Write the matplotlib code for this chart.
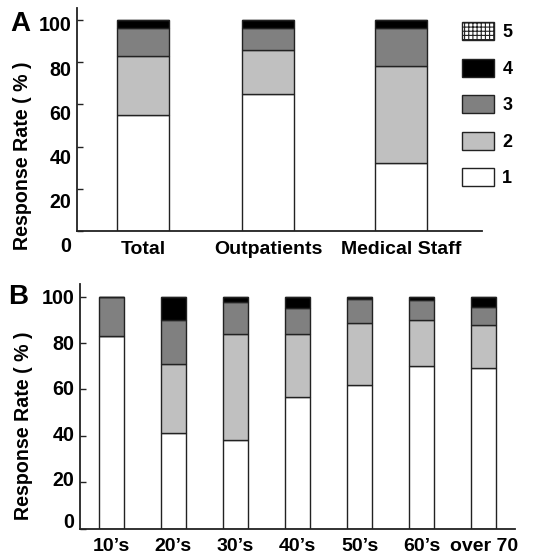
import matplotlib
matplotlib.use("Agg")
import matplotlib.pyplot as plt
from matplotlib.patches import Patch
from matplotlib.transforms import ScaledTranslation
import numpy as np

plt.rcParams['font.family'] = ['Liberation Sans', 'DejaVu Sans']
plt.rcParams['font.weight'] = 'bold'
plt.rcParams['hatch.linewidth'] = 0.8

# ---- data ----
groups_a = ["Total", "Outpatients", "Medical Staff"]
a_r1 = [55, 65, 32]
a_r2 = [28, 20.5, 46]
a_r3 = [13, 10.5, 18]
a_r4 = [4, 4, 4]
a_r5 = [0, 0, 0]

groups_b = ["10\u2019s", "20\u2019s", "30\u2019s", "40\u2019s", "50\u2019s", "60\u2019s", "over 70"]
b_r1 = [83, 41.4, 38.2, 56.8, 61.9, 70.1, 69.1]
b_r2 = [0, 29.4, 45.7, 27.3, 26.6, 19.8, 18.5]
b_r3 = [17, 19.3, 13.7, 11.2, 10.4, 8.5, 8.1]
b_r4 = [0, 9.9, 2.4, 4.7, 1.1, 1.6, 4.3]
b_r5 = [0, 0, 0, 0, 0, 0, 0]

legend_labels = ["1", "2", "3", "4", "5"]
yticks = [0, 20, 40, 60, 80, 100]

# ---- style ----
fills = ["white", "#c0c0c0", "#808080", "black", "white"]
hatches = [None, None, None, None, "++++"]
edge = "#222222"

W, H = 536, 555
fig = plt.figure(figsize=(W / 100, H / 100), dpi=100)


def px_axes(l, t, r, b):
    return fig.add_axes([l / W, 1 - b / H, (r - l) / W, (b - t) / H])


def draw(ax, x, series, width):
    bottom = np.zeros(len(x))
    for vals, fc, hz in zip(series, fills, hatches):
        vals = np.asarray(vals, dtype=float)
        ax.bar(x, vals, width, bottom=bottom, facecolor=fc, edgecolor=edge,
               linewidth=1.0, hatch=hz, zorder=2)
        bottom += vals


def style(ax, labels, x, ylim_top, label_shift, xpad):
    ax.set_ylim(0, ylim_top)
    ax.set_yticks(yticks)
    ax.set_yticklabels([str(v) for v in yticks])
    ax.set_xticks(x)
    ax.set_xticklabels(labels)
    for s in ("top", "right"):
        ax.spines[s].set_visible(False)
    for s in ("left", "bottom"):
        ax.spines[s].set_linewidth(1.3)
        ax.spines[s].set_color("#222222")
    ax.tick_params(axis="y", direction="in", length=4, width=1, pad=4,
                   labelsize=14.2, colors="#222222", labelcolor="black")
    ax.tick_params(axis="x", length=0, pad=xpad, labelsize=14)
    for v, lab in zip(yticks, ax.get_yticklabels()):
        lab.set_fontweight("bold")
        lab.set_transform(lab.get_transform() +
                          ScaledTranslation(0, label_shift(v) / 100, fig.dpi_scale_trans))
    for lab in ax.get_xticklabels():
        lab.set_fontweight("bold")
    ax.set_ylabel("Response Rate ( % )", fontsize=14.1, fontweight="bold", labelpad=0)


# Panel A
axA = px_axes(77, 8, 482, 231)
xa = np.array([0, 1, 2.064])
draw(axA, xa, [a_r1, a_r2, a_r3, a_r4, a_r5], 0.416)
axA.set_xlim(-0.528, 2.712)
style(axA, groups_a, xa, 105.6, lambda v: -(4 + 0.1 * (100 - v)), 7)
axA.yaxis.set_label_coords(-0.11, 0.336)

# Panel B
axB = px_axes(80, 284, 515, 528.5)
xb = np.arange(len(groups_b))
draw(axB, xb, [b_r1, b_r2, b_r3, b_r4, b_r5], 0.40)
axB.set_xlim(-0.5, 6.5)
style(axB, groups_b, xb, 105.5, lambda v: 0.04 * (100 - v) + (4 if v == 0 else 0), 6.5)
axB.yaxis.set_label_coords(-0.109, 0.42)

# Panel letters
fig.text(10 / W, 1 - 24 / H, "A", fontsize=20, fontweight="bold", va="center", ha="left")
fig.text(8 / W, 1 - 297 / H, "B", fontsize=20, fontweight="bold", va="center", ha="left")

# Legend
handles = [Patch(facecolor=fc, edgecolor=edge, hatch=hz, linewidth=1.0)
           for fc, hz in zip(fills, hatches)]
fig.legend(handles[::-1], legend_labels[::-1], loc="upper left",
           bbox_to_anchor=(462 / W, 1 - 22 / H), frameon=False,
           borderpad=0, borderaxespad=0, handlelength=1.78, handleheight=1.15,
           handletextpad=0.45, labelspacing=0.97,
           prop={"weight": "bold", "size": 13})

fig.savefig("out.png", dpi=100)
